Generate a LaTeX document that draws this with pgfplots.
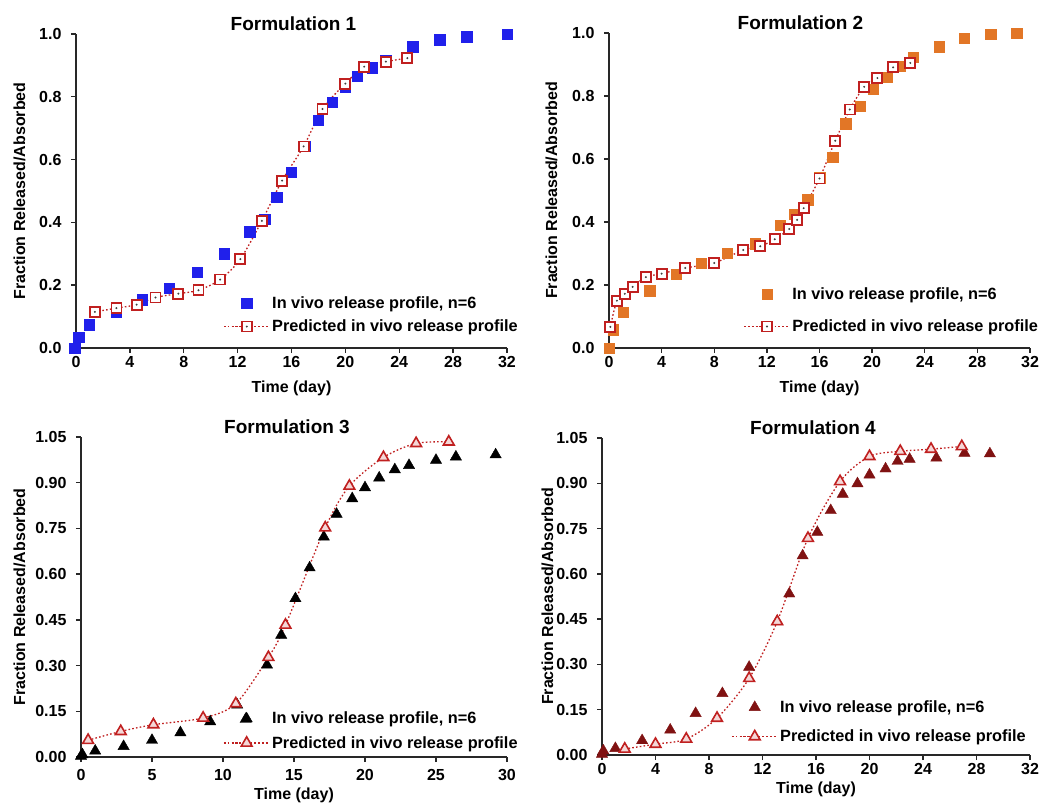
\documentclass[border=0pt]{standalone}
\usepackage{pgfplots}
\pgfplotsset{compat=1.18}
\usepackage{fontspec}
\setmainfont{Liberation Sans}

\definecolor{invblue}{RGB}{32,32,235}
\definecolor{invorange}{RGB}{226,118,38}
\definecolor{invdark}{RGB}{128,18,18}
\definecolor{predred}{RGB}{192,32,32}
\definecolor{axgray}{RGB}{40,40,40}

\pgfdeclareplotmark{sqdot}{%
  \pgfpathrectangle{\pgfpoint{-\pgfplotmarksize}{-\pgfplotmarksize}}{\pgfpoint{2\pgfplotmarksize}{2\pgfplotmarksize}}%
  \pgfusepathqfillstroke
  \begin{pgfscope}%
    \pgfsetfillcolor{black!75}%
    \pgfpathcircle{\pgfpointorigin}{1.1pt}%
    \pgfusepathqfill
  \end{pgfscope}%
}

\pgfplotsset{
  panel/.style={
    scale only axis,
    axis lines=left,
    axis line style={line width=1.4pt, axgray, -},
    every tick/.style={line width=1.4pt, axgray},
    tick align=outside,
    major tick length=5pt,
    clip=false,
    tick label style={font=\fontsize{16}{19}\selectfont\bfseries},
    yticklabel style={xshift=-6pt},
    label style={font=\fontsize{16}{19}\selectfont\bfseries},
    title style={font=\fontsize{19}{22}\selectfont\bfseries, at={(0.5,1)}, anchor=south, inner sep=0pt, yshift=-3pt},
    /pgf/number format/assume math mode=true,
    xlabel={Time (day)},
    ylabel={Fraction Released/Absorbed},
    legend style={draw=none, fill=none, font=\fontsize{16.3}{19}\selectfont\bfseries, inner sep=0pt, legend cell align=left},
    legend image code/.code={\draw[mark repeat=2,mark phase=2,##1] plot coordinates {(0cm,0cm) (0.8cm,0cm) (1.6cm,0cm)};},
  },
  invivo/.style={only marks, mark=square*, mark size=5.2pt, mark options={draw=#1, fill=#1}, color=#1},
  invivotri/.style={only marks, mark=triangle*, mark size=6.5pt, mark options={draw=#1, fill=#1}, color=#1},
  pred/.style={predred, line width=1.3pt, dash pattern=on 1.6pt off 2.2pt, smooth, mark=#1, mark size=5pt, mark options={solid, draw=predred, fill=white, line width=1.8pt}},
  predtri/.style={predred, line width=1.3pt, dash pattern=on 1.6pt off 2.2pt, smooth, mark=triangle*, mark size=6.2pt, mark options={solid, draw=predred, fill=predred!18, line width=1.6pt}},
}

\begin{document}
\begin{tikzpicture}
\path[use as bounding box] (0pt,0pt) rectangle (1045pt,804pt);

% ---------- Formulation 1 ----------
\begin{axis}[panel, at={(76pt,456pt)}, anchor=south west, width=431pt, height=314pt,
  xmin=0, xmax=32, ymin=0, ymax=1.0,
  xtick={0,4,8,12,16,20,24,28,32}, ytick={0,0.2,0.4,0.6,0.8,1.0},
  yticklabel style={/pgf/number format/.cd, fixed, fixed zerofill, precision=1},
  ylabel shift=7pt, xlabel shift=6pt,
  title={Formulation 1}, title style={xshift=2pt},
  legend style={at={(1.03,0.04)}, anchor=south east, row sep=6pt}]
\addplot[invivo=invblue] coordinates {
(-0.1,0) (0.2,0.034) (1.0,0.074) (3.0,0.115) (4.9,0.154) (6.9,0.19) (9.0,0.242)
(11.0,0.30) (12.9,0.37) (14.0,0.41) (14.9,0.48) (16.0,0.56) (17.0,0.643) (18.0,0.725)
(19.0,0.783) (20.0,0.83) (20.9,0.865) (22.0,0.893) (23.0,0.917) (25.0,0.959)
(27.0,0.982) (29.0,0.992) (32.0,0.999)};
\addlegendentry{In vivo release profile, n=6}
\addplot[pred=sqdot] coordinates {
(1.4,0.115) (3.0,0.127) (4.5,0.138) (5.9,0.161) (7.6,0.173) (9.1,0.184) (10.7,0.218)
(12.2,0.283) (13.8,0.405) (15.3,0.533) (16.9,0.642) (18.3,0.761) (20.0,0.842)
(21.4,0.896) (23.0,0.912) (24.6,0.923)};
\addlegendentry{Predicted in vivo release profile}
\end{axis}

% ---------- Formulation 2 ----------
\begin{axis}[panel, at={(609pt,456pt)}, anchor=south west, width=421pt, height=315pt,
  xmin=0, xmax=32, ymin=0, ymax=1.0,
  xtick={0,4,8,12,16,20,24,28,32}, ytick={0,0.2,0.4,0.6,0.8,1.0},
  yticklabel style={/pgf/number format/.cd, fixed, fixed zerofill, precision=1},
  ylabel shift=8pt, xlabel shift=6pt,
  title={Formulation 2}, title style={xshift=-19pt},
  legend style={at={(1.024,0.04)}, anchor=south east, row sep=15pt}]
\addplot[invivo=invorange] coordinates {
(0,0) (0.3,0.058) (1.1,0.113) (3.1,0.182) (5.1,0.235) (7.0,0.27) (9.0,0.30)
(11.1,0.331) (13.0,0.389) (14.1,0.425) (15.1,0.471) (16.0,0.54) (17.0,0.605)
(18.0,0.712) (19.1,0.767) (20.1,0.822) (21.1,0.86) (22.1,0.894) (23.1,0.924)
(25.1,0.956) (27.0,0.984) (29.0,0.996) (31.0,1.0)};
\addlegendentry{In vivo release profile, n=6}
\addplot[pred=sqdot] coordinates {
(0.1,0.067) (0.6,0.15) (1.2,0.172) (1.8,0.194) (2.8,0.225) (4.0,0.236) (5.8,0.254)
(8.0,0.27) (10.2,0.311) (11.5,0.323) (12.6,0.345) (13.7,0.378) (14.3,0.407)
(14.8,0.444) (16.0,0.538) (17.2,0.658) (18.3,0.757) (19.4,0.829) (20.4,0.857)
(21.6,0.891) (22.9,0.905)};
\addlegendentry{Predicted in vivo release profile}
\end{axis}

% ---------- Formulation 3 ----------
\begin{axis}[panel, at={(81pt,47pt)}, anchor=south west, width=426pt, height=320pt,
  xmin=0, xmax=30, ymin=0, ymax=1.05,
  xtick={0,5,10,15,20,25,30}, ytick={0,0.15,0.30,0.45,0.60,0.75,0.90,1.05},
  yticklabel style={/pgf/number format/.cd, fixed, fixed zerofill, precision=2},
  xticklabel style={yshift=-4pt},
  ylabel shift=3pt, xlabel shift=0pt,
  title={Formulation 3}, title style={xshift=-7pt},
  legend style={at={(1.03,0.016)}, anchor=south east, row sep=7pt}]
\addplot[invivotri=black] coordinates {
(0,0.003) (0.1,0.008) (1.0,0.02) (3.0,0.035) (5.0,0.055) (7.0,0.08) (9.1,0.116)
(11.0,0.171) (11.6,0.124) (13.1,0.302) (14.1,0.40) (15.1,0.52) (16.1,0.621)
(17.1,0.722) (18.0,0.797) (19.1,0.848) (20.0,0.884) (21.0,0.916) (22.1,0.943)
(23.1,0.957) (25.0,0.974) (26.4,0.985) (29.2,0.992)};
\addlegendentry{In vivo release profile, n=6}
\addplot[predtri] coordinates {
(0.5,0.055) (2.8,0.084) (5.1,0.106) (8.6,0.128) (10.9,0.175) (13.2,0.327)
(14.4,0.433) (17.2,0.752) (18.9,0.889) (21.3,0.983) (23.6,1.029) (25.9,1.034)};
\addlegendentry{Predicted in vivo release profile}
\end{axis}

% ---------- Formulation 4 ----------
\begin{axis}[panel, at={(602pt,49pt)}, anchor=south west, width=428pt, height=317pt,
  xmin=0, xmax=32, ymin=0, ymax=1.05,
  xtick={0,4,8,12,16,20,24,28,32}, ytick={0,0.15,0.30,0.45,0.60,0.75,0.90,1.05},
  yticklabel style={/pgf/number format/.cd, fixed, fixed zerofill, precision=2},
  ylabel shift=-4pt,
  title={Formulation 4}, title style={xshift=-3pt},
  legend style={at={(0.995,0.03)}, anchor=south east, row sep=12pt}]
\addplot[invivotri=invdark] coordinates {
(0,0.003) (0.1,0.014) (1.0,0.022) (3.0,0.048) (5.1,0.083) (7.0,0.138) (9.0,0.204)
(11.0,0.291) (13.1,0.442) (14.0,0.534) (15.0,0.66) (16.1,0.738) (17.1,0.81)
(18.0,0.864) (19.1,0.899) (20.0,0.928) (21.2,0.948) (22.1,0.973) (23.0,0.98)
(25.0,0.984) (27.1,1.0) (29.0,0.998)};
\addlegendentry{In vivo release profile, n=6}
\addplot[predtri] coordinates {
(1.7,0.02) (4.0,0.036) (6.3,0.053) (8.6,0.122) (11.0,0.254) (13.1,0.442)
(15.4,0.718) (17.8,0.906) (20.0,0.989) (22.3,1.006) (24.6,1.013) (26.9,1.022)};
\addlegendentry{Predicted in vivo release profile}
\end{axis}
\end{tikzpicture}
\end{document}
